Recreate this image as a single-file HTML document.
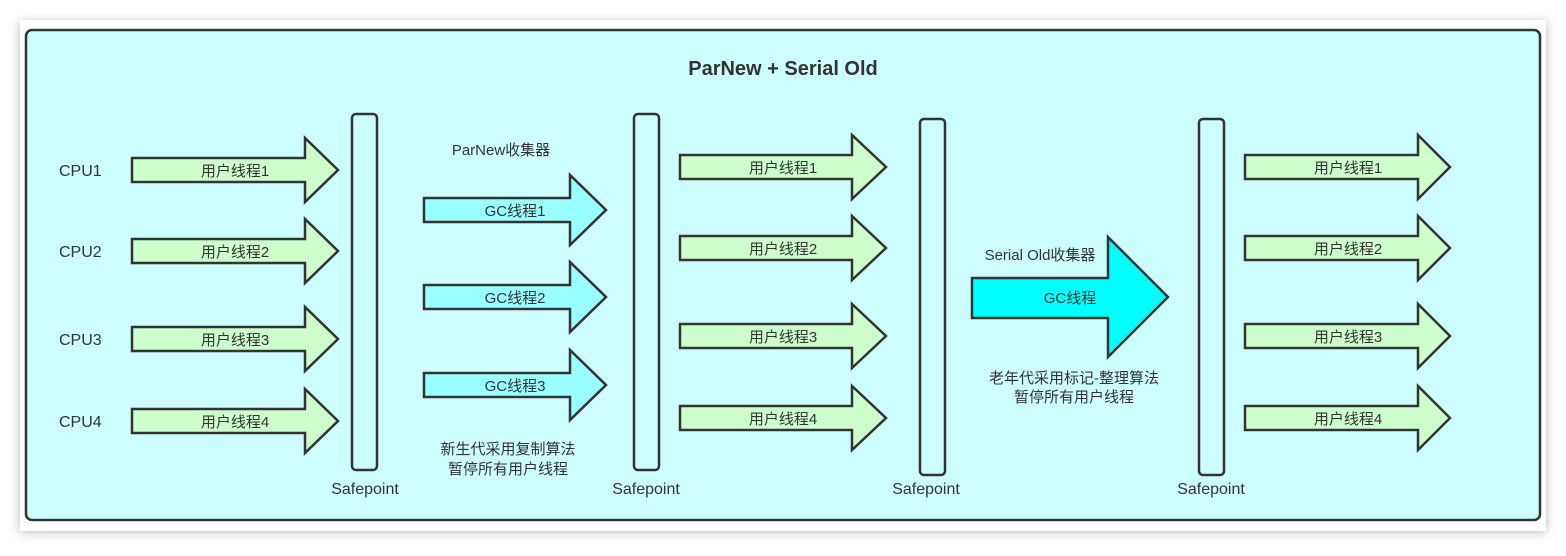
<!DOCTYPE html>
<html><head><meta charset="utf-8"><style>
html,body{margin:0;padding:0;background:#fff;}
svg text{font-family:"Liberation Sans","Noto Sans CJK SC",sans-serif;fill:#333;}
</style></head><body>
<svg width="1566" height="551" viewBox="0 0 1566 551" xmlns="http://www.w3.org/2000/svg">
<defs><filter id="sh" x="-5%" y="-10%" width="110%" height="120%"><feGaussianBlur stdDeviation="5"/></filter></defs>
<rect x="20" y="22" width="1526" height="510" fill="#888" opacity="0.6" filter="url(#sh)"/>
<rect x="20" y="20" width="1526" height="511" fill="#fff"/>
<rect x="26" y="30" width="1514" height="490" rx="6" fill="#ccfefe" stroke="#333" stroke-width="2.5"/>
<text x="783" y="75" font-size="20" font-weight="bold" text-anchor="middle">ParNew + Serial Old</text>
<g stroke="#333" stroke-width="2.5" stroke-linejoin="miter">
<g fill="#ccffcc">
<path d="M132 158H305V138L338 170L305 202V182H132Z"/>
<path d="M132 239H305V219L338 251L305 283V263H132Z"/>
<path d="M132 327H305V307L338 339L305 371V351H132Z"/>
<path d="M132 409H305V389L338 421L305 453V433H132Z"/>
<path d="M680 155H852V135L886 167L852 199V179H680Z"/>
<path d="M680 236H852V216L886 248L852 280V260H680Z"/>
<path d="M680 324H852V304L886 336L852 368V348H680Z"/>
<path d="M680 406H852V386L886 418L852 450V430H680Z"/>
<path d="M1245 155H1418V135L1450 167L1418 199V179H1245Z"/>
<path d="M1245 236H1418V216L1450 248L1418 280V260H1245Z"/>
<path d="M1245 324H1418V304L1450 336L1418 368V348H1245Z"/>
<path d="M1245 406H1418V386L1450 418L1418 450V430H1245Z"/>
</g>
<g fill="#99ffff">
<path d="M424 198H570V175L606 210L570 245V222H424Z"/>
<path d="M424 285H570V262L606 297L570 332V309H424Z"/>
<path d="M424 373H570V350L606 385L570 420V397H424Z"/>
</g>
<path fill="#00ffff" d="M972 278H1108V237L1168 297L1108 357V318H972Z"/>
<g fill="#ccfefe">
<rect x="352" y="114" width="25" height="356" rx="4"/>
<rect x="634" y="114" width="25" height="356" rx="4"/>
<rect x="920" y="119" width="25" height="356" rx="4"/>
<rect x="1199" y="119" width="25" height="356" rx="4"/>
</g>
</g>
<g font-size="16">
<text x="59" y="176">CPU1</text><text x="59" y="257">CPU2</text><text x="59" y="345">CPU3</text><text x="59" y="427">CPU4</text>
</g>
<g font-size="15" text-anchor="middle">
<text x="235" y="176">用户线程1</text><text x="235" y="257">用户线程2</text><text x="235" y="345">用户线程3</text><text x="235" y="427">用户线程4</text>
<text x="783" y="173">用户线程1</text><text x="783" y="254">用户线程2</text><text x="783" y="342">用户线程3</text><text x="783" y="424">用户线程4</text>
<text x="1348" y="173">用户线程1</text><text x="1348" y="254">用户线程2</text><text x="1348" y="342">用户线程3</text><text x="1348" y="424">用户线程4</text>
<text x="515" y="216">GC线程1</text><text x="515" y="303">GC线程2</text><text x="515" y="391">GC线程3</text>
<text x="1070" y="303">GC线程</text>
<text x="501" y="155">ParNew收集器</text>
<text x="1040" y="260">Serial Old收集器</text>
<text x="508" y="454">新生代采用复制算法</text>
<text x="508" y="474">暂停所有用户线程</text>
<text x="1074" y="383">老年代采用标记-整理算法</text>
<text x="1074" y="402">暂停所有用户线程</text>
</g>
<g font-size="16" text-anchor="middle">
<text x="365" y="494">Safepoint</text><text x="646" y="494">Safepoint</text><text x="926" y="494">Safepoint</text><text x="1211" y="494">Safepoint</text>
</g>
</svg>
</body></html>
